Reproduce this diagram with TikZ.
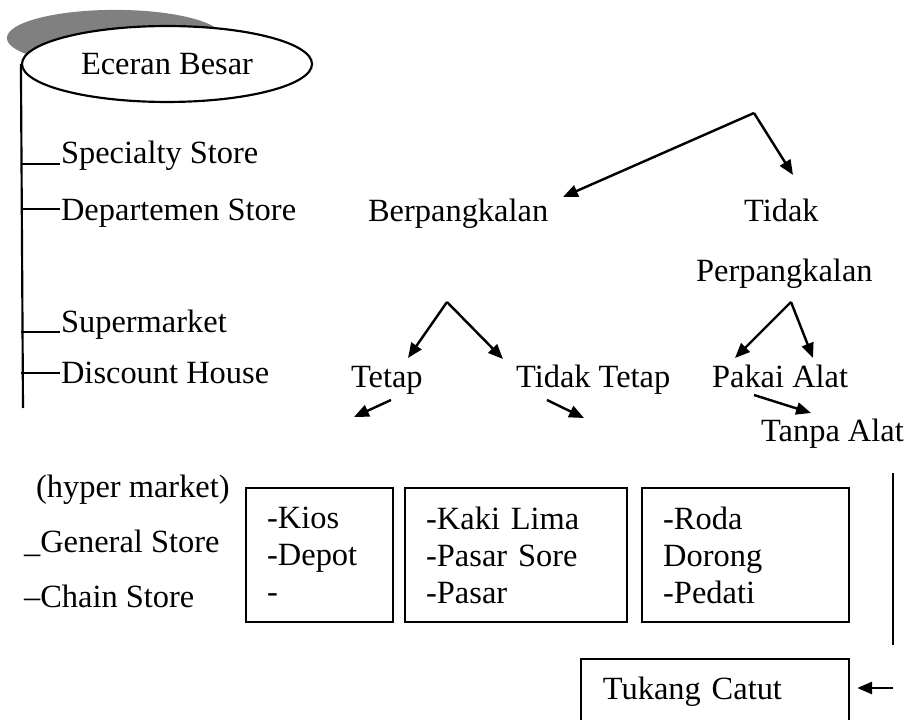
\documentclass[tikz,border=0pt]{standalone}
\usepackage{fontspec}
\setmainfont{Liberation Serif}
\usetikzlibrary{arrows.meta,shapes.geometric}

\begin{document}
\begin{tikzpicture}[
  x=0.37pt, y=-0.37pt,
  line width=0.8pt,
  every node/.style={font=\fontsize{12}{13.7}\selectfont, inner sep=0pt},
  lbl/.style={anchor=base west},
  arr/.style={-{Triangle[length=5.5pt,width=4.5pt]}, line width=0.9pt},
  listbox/.style={draw, anchor=north west, minimum height=49.6pt, inner xsep=7.8pt, align=left}
]
\clip (0,0) rectangle (909,720);

% heading with its shadow
\fill[black!50] (115,38) ellipse [x radius=40pt, y radius=10.4pt];
\node[ellipse, draw, fill=white, minimum width=107.3pt, minimum height=28.1pt] (besar) at (167,64) {Eceran Besar};
\coordinate (trunkend) at (23,408);
\draw (besar.west) -- (trunkend);

% left list
\node[lbl] (spec) at (60,164) {Specialty Store};
\node[lbl] (dept) at (60,221) {Departemen Store};
\node[lbl] (supm) at (60,332) {Supermarket};
\node[lbl] (disc) at (60,383) {Discount House};
\path (dept.base west) ++(0,-12) coordinate (deptmid);
\path (disc.base west) ++(0,-10) coordinate (discmid);
\draw (besar.west |- spec.base west) -- (spec.base west);
\draw (besar.west |- deptmid) -- (deptmid);
\draw (besar.west |- supm.base west) -- (supm.base west);
\draw (besar.west |- discmid) -- (discmid);

\node[lbl] (hyper) at (35,497) {(hyper market)};
\node[lbl] (gen) at (23,552) {\_General Store};
\node[lbl] (chain) at (23,607) {--Chain Store};

% right tree
\node[lbl] (berp) at (367,222) {Berpangkalan};
\node[lbl] (tidak) at (743,222) {Tidak};
\node[lbl] (perp) at (695,282) {Perpangkalan};
\node[lbl] (tetap) at (350,387) {Tetap};
\node[lbl] (ttetap) at (515,387) {Tidak Tetap};
\node[lbl] (pakai) at (711,387) {Pakai Alat};
\node[lbl] (tanpa) at (760,441) {Tanpa Alat};

\coordinate (split) at (754,113);
\coordinate (berpin) at (563,197);
\coordinate (tidakin) at (793,175);
\draw[arr] (split) -- (berpin);
\draw[arr] (split) -- (tidakin);

\coordinate (berpout) at (447,302);
\coordinate (tetapin) at (408,358);
\coordinate (ttetapin) at (503,359);
\draw[arr] (berpout) -- (tetapin);
\draw[arr] (berpout) -- (ttetapin);

\coordinate (perpout) at (791,302);
\coordinate (pakaiin) at (735,358);
\coordinate (alatin) at (813,358);
\draw[arr] (perpout) -- (pakaiin);
\draw[arr] (perpout) -- (alatin);

\coordinate (tetapout) at (391,400);
\coordinate (kiosin) at (354,417);
\coordinate (ttetapout) at (547,400);
\coordinate (kakiin) at (584,418);
\coordinate (pakaiout) at (754,395);
\coordinate (tanpain) at (811,413);
\draw[arr] (tetapout) -- (kiosin);
\draw[arr] (ttetapout) -- (kakiin);
\draw[arr] (pakaiout) -- (tanpain);

% boxes
\node[listbox, text width=38.8pt] (kios) at (245,487) {-Kios\\-Depot\\-};
\node[listbox, text width=66.5pt] (kaki) at (404,487) {-Kaki Lima\\-Pasar Sore\\-Pasar};
\node[listbox, text width=61pt] (roda) at (641,487) {-Roda\\Dorong\\-Pedati};

\coordinate (railtop) at (893,473);
\coordinate (railbot) at (893,645);
\draw (railtop) -- (railbot);

\node[draw, anchor=north west, minimum height=24.1pt, text width=83pt, inner xsep=8.1pt, align=left] (catut) at (580,658) {Tukang Catut};
\coordinate (catutin) at (893,688);
\draw[arr, shorten >=2.6pt] (catutin) -- (catut.east |- catutin);
\end{tikzpicture}
\end{document}
